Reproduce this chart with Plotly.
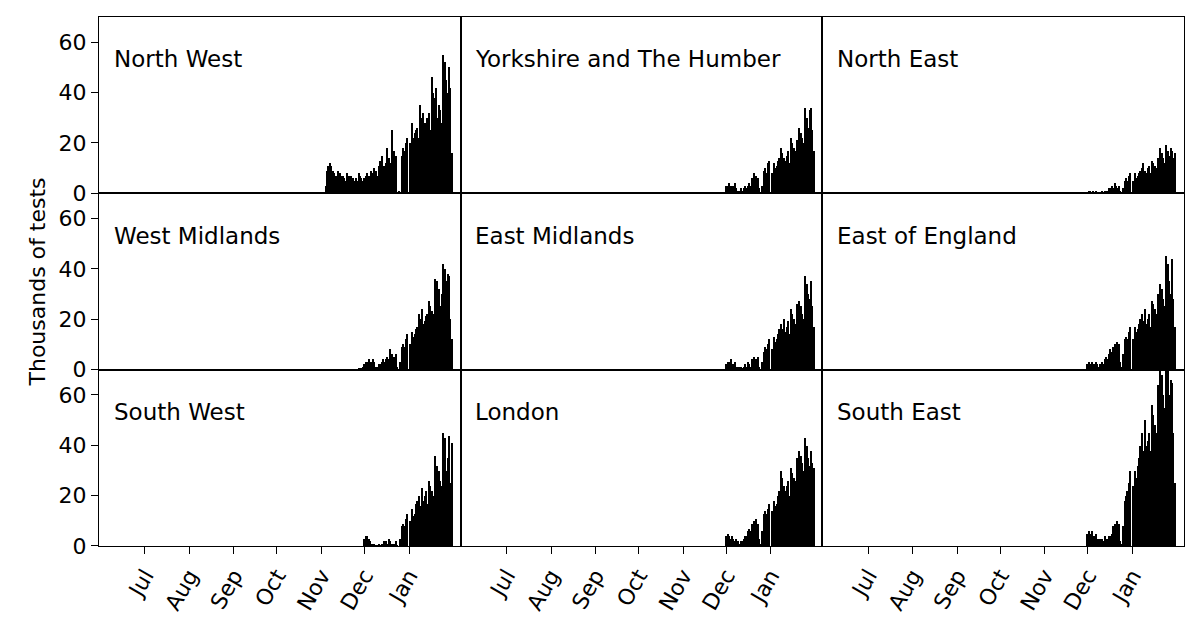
import pandas as pd
import plotly.graph_objects as go
from plotly.subplots import make_subplots

regions = ["North West", "Yorkshire and The Humber", "North East",
           "West Midlands", "East Midlands", "East of England",
           "South West", "London", "South East"]

# Nov 4 .. Nov 30 (North West only; others zero)
nw_nov = [3,9,11,12,11,9,8,7,6,9,8,7,7,6,5,8,7,6,7,6,5,6,5,8,7,6,5]
wm_nov = [0,0,0,0,0,0,0,0,0,0,0,0,0,0,0,0,0,0,0,0,0,0,0,0.3,0.4,0.5,1]
zero_nov = [0]*27

# Dec 1 .. Jan 31 values (thousands)
dec_jan = {
 "North West": [6,7,8,7,5,9,8,10,9,7,11,13,15,10,11,12,18,14,12,25,16,17,15,
                0,1,0,15,18,17,20,22,
                0,20,28,22,24,25,26,22,35,30,32,28,27,30,32,25,46,40,38,42,30,35,33,28,55,52,45,40,50,42,16],
 "Yorkshire and The Humber": [3,3,4,3,2,3,4,2,1,1,2,1,2,3,2,3,4,3,6,8,5,7,6,
                2,0,3,9,10,8,12,13,
                0,8,12,10,11,13,14,18,16,14,13,15,17,12,22,20,18,17,21,15,26,24,22,20,34,30,26,33,34,25,17],
 "North East": [0.5,1,1,0.5,1,0.5,1,0,0,0.5,1,0.5,1,1,1,2,2,3,2,4,3,2,3,
                1,0,2,5,6,5,7,8,
                0,5,8,6,7,8,9,10,12,9,8,10,11,8,13,12,11,10,14,9,18,16,14,12,19,17,15,18,17,14,16],
 "West Midlands": [2,3,3,4,2,3,4,3,1,1,2,2,3,4,3,4,5,4,8,6,4,5,6,
                1,0,3,9,10,9,12,14,
                0,10,15,13,14,16,17,22,20,24,18,19,21,22,27,25,23,22,36,20,35,32,25,30,42,40,35,38,37,20,12],
 "East Midlands": [2,3,3,4,2,2,3,1,1,1,1,0.5,1,2,1,3,2,1,4,5,3,4,5,
                1,0,3,7,9,8,10,12,
                0,8,13,11,12,14,16,18,16,20,15,17,19,14,24,22,20,18,26,20,27,25,22,20,37,34,30,28,35,25,17],
 "East of England": [2,3,2,3,2,2,3,2,1,2,3,2,4,5,4,6,8,7,9,10,8,11,10,
                3,1,6,12,13,12,15,17,
                0,12,17,15,16,18,20,22,19,24,18,20,22,17,27,26,24,22,30,23,34,32,28,25,45,42,35,30,44,28,17],
 "South West": [3,4,4,3,2,1,1,1,0.5,0.5,1,0.5,1,1,2,2,1,3,2,1,0.5,1,2,
                0.5,0,3,8,9,8,11,13,
                0,10,15,12,13,17,18,20,16,23,18,20,22,17,26,24,22,20,36,20,32,30,26,24,45,43,30,35,44,25,41],
 "London": [4,5,4,3,4,3,2,3,2,1,2,2,3,4,4,6,7,6,9,10,8,11,9,
                3,1,6,13,14,13,15,17,
                0,14,18,16,17,20,22,30,27,24,22,24,26,20,31,29,27,26,35,24,38,36,33,30,43,40,35,32,38,33,31],
 "South East": [5,6,5,6,4,4,5,3,3,3,3,2,4,3,3,4,4,5,8,9,7,10,9,
                2,1,8,18,20,22,25,30,
                0,24,30,27,32,35,40,45,38,50,40,42,45,38,56,52,48,45,64,45,70,68,60,55,72,70,60,66,65,45,25],
}
nov_part = {r: zero_nov for r in regions}
nov_part["North West"] = nw_nov
nov_part["West Midlands"] = wm_nov

dates = pd.date_range("2020-11-04", "2021-01-31", freq="D")
tick_vals = ["2020-07-01","2020-08-01","2020-09-01","2020-10-01","2020-11-01","2020-12-01","2021-01-01"]
tick_text = ["Jul","Aug","Sep","Oct","Nov","Dec","Jan"]

fig = make_subplots(rows=3, cols=3, shared_xaxes=True, shared_yaxes=True,
                    horizontal_spacing=0, vertical_spacing=0)
for i, r in enumerate(regions):
    row, col = i // 3 + 1, i % 3 + 1
    vals = nov_part[r] + dec_jan[r]
    fig.add_trace(go.Bar(x=dates, y=vals, marker=dict(color="black", line=dict(width=0)),
                         showlegend=False), row=row, col=col)
    fig.add_annotation(text=r, xref="x domain" if i == 0 else f"x{i+1} domain",
                       yref="y domain" if i == 0 else f"y{i+1} domain",
                       x=0.035, y=0.76, xanchor="left", yanchor="middle", showarrow=False,
                       font=dict(size=23, color="black"))
    fig.update_xaxes(row=row, col=col, type="date", range=["2020-05-30", "2021-02-06"],
                     tickvals=tick_vals, ticktext=tick_text, tickangle=-60,
                     showticklabels=(row == 3), ticks="outside" if row == 3 else "",
                     ticklen=7, tickcolor="black",
                     showline=True, linecolor="black", linewidth=1.3, mirror=True,
                     showgrid=False, zeroline=False, tickfont=dict(size=22, color="black"))
    fig.update_yaxes(row=row, col=col, range=[0, 70], tickvals=[0,20,40,60],
                     showticklabels=(col == 1), ticks="outside" if col == 1 else "",
                     ticklen=7, tickcolor="black",
                     showline=True, linecolor="black", linewidth=1.3, mirror=True,
                     showgrid=False, zeroline=False, tickfont=dict(size=22, color="black"))

fig.update_yaxes(title_text="Thousands of tests", title_font=dict(size=22, color="black"),
                 title_standoff=6, row=2, col=1)
fig.update_layout(width=1200, height=633, bargap=0, plot_bgcolor="white", paper_bgcolor="white",
                  font=dict(family="DejaVu Sans", color="black"),
                  margin=dict(l=91, r=24, t=9, b=95))
fig.write_html("out.html")
